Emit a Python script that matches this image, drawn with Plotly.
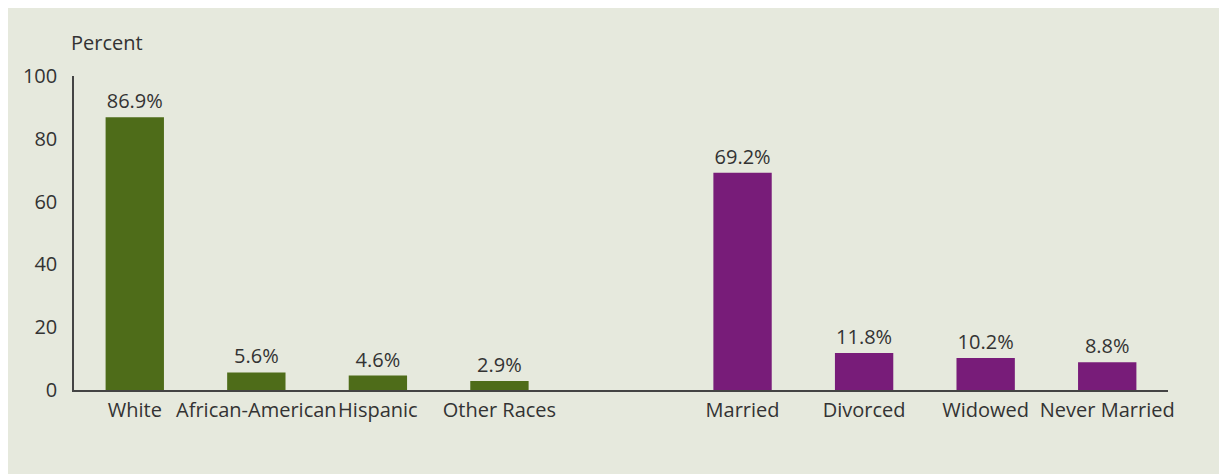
import plotly.graph_objects as go

race_cats = ["White", "African-American", "Hispanic", "Other Races"]
race_vals = [86.9, 5.6, 4.6, 2.9]
marital_cats = ["Married", "Divorced", "Widowed", "Never Married"]
marital_vals = [69.2, 11.8, 10.2, 8.8]
spacer = " "
y_ticks = [0, 20, 40, 60, 80, 100]

GREEN = "#4e6c19"
PURPLE = "#781c79"
BG = "#e6e9dd"
TXT = "#333333"
FONT = "Open Sans"
FS = 20

W, H = 1219, 466
ml, mr, mt, mb = 66, 59, 68, 84
pw = W - ml - mr
ph = H - mt - mb

fig = go.Figure()
fig.add_trace(go.Bar(
    x=race_cats, y=race_vals, marker_color=GREEN, marker_line_width=0,
    text=[f"{v}%" for v in race_vals], textposition="outside",
    textfont=dict(color=TXT, size=FS, family=FONT), cliponaxis=False,
))
fig.add_trace(go.Bar(
    x=marital_cats, y=marital_vals, marker_color=PURPLE, marker_line_width=0,
    text=[f"{v}%" for v in marital_vals], textposition="outside",
    textfont=dict(color=TXT, size=FS, family=FONT), cliponaxis=False,
))

cat_order = race_cats + [spacer] + marital_cats

fig.update_layout(
    width=W, height=H,
    margin=dict(l=ml, r=mr, t=mt, b=mb),
    paper_bgcolor=BG, plot_bgcolor=BG,
    showlegend=False,
    barmode="group",
    bargap=0.52,
    font=dict(family=FONT, color=TXT, size=FS),
    xaxis=dict(
        categoryorder="array", categoryarray=cat_order,
        range=[-0.5, len(cat_order) - 0.5],
        showline=True, linecolor="#444444", linewidth=1.5,
        ticks="", showgrid=False, zeroline=False,
        tickfont=dict(size=FS, color=TXT, family=FONT),
        tickangle=0, automargin=False,
        ticklabelstandoff=1,
    ),
    yaxis=dict(
        range=[0, 100], tickvals=y_ticks,
        showline=True, linecolor="#444444", linewidth=1.5,
        ticks="", showgrid=False, zeroline=False,
        tickfont=dict(size=FS, color=TXT, family=FONT),
        automargin=False,
        ticklabelstandoff=11,
    ),
    annotations=[dict(
        text="Percent", xref="paper", yref="paper",
        x=-5 / pw, y=1 + 34 / ph, xanchor="left", yanchor="middle",
        showarrow=False, font=dict(size=FS, color=TXT, family=FONT),
    )],
)

fig.write_html("out.html")
